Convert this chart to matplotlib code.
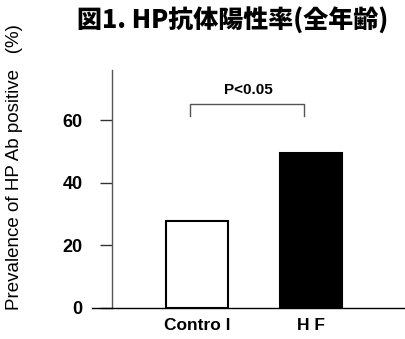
import matplotlib
matplotlib.use("Agg")
import matplotlib.pyplot as plt

# data
groups = ["Control", "HF"]
prevalence = [27.8, 49.6]
bar_colors = ["white", "black"]
yticks = [0, 20, 40, 60]
p_text = "P<0.05"

W, H = 406, 339
fig = plt.figure(figsize=(W / 100, H / 100), dpi=100)
# axes box in pixels: x 92..406, y 70..308 (from top)
ax = fig.add_axes([92 / W, 1 - 308 / H, (406 - 92) / W, (308 - 70) / H])

SANS = ["Liberation Sans", "DejaVu Sans"]
CJK = ["Noto Sans CJK JP", "DejaVu Sans"]

xpos = list(range(len(groups)))
ax.bar(xpos, prevalence, width=0.55, color=bar_colors, edgecolor="black",
       linewidth=1.5, zorder=3)

ax.set_xlim(-0.921, 1.833)
ax.set_ylim(0, 76)

for s in ["top", "right"]:
    ax.spines[s].set_visible(False)
ax.spines["left"].set_position(("data", -0.746))
ax.spines["left"].set_color("#555555")
ax.spines["left"].set_linewidth(1.0)
ax.spines["bottom"].set_color("black")
ax.spines["bottom"].set_linewidth(1.0)

ax.set_yticks(yticks)
ax.set_yticklabels([str(t) for t in yticks], fontweight="bold", fontsize=13,
                   family=SANS)
ax.tick_params(axis="y", length=9, width=1.0, color="#333333", pad=12)
ax.set_xticks(xpos)
ax.set_xticklabels(["Contro l", "H F"], fontweight="bold", fontsize=12.5,
                   family=SANS)
ax.tick_params(axis="x", length=0, pad=7)

# significance bracket
y_br, y_drop = 65, 61.2
ax.plot([-0.06, -0.06, 0.94, 0.94], [y_drop, y_br, y_br, y_drop],
        color="#555555", lw=1.0, clip_on=False)
ax.text(0.45, 67.5, p_text, ha="center", va="bottom", fontsize=11,
        fontweight="bold", family=SANS)

fig.text(15 / W, 1 - 167 / H, "Prevalence of HP Ab positive   (%)",
         rotation=90, ha="center", va="center", fontsize=13.5,
         fontweight="medium", family=SANS)
fig.text(233 / W, 1 - 20 / H, "図1. HP抗体陽性率(全年齢)", ha="center",
         va="center", fontsize=18, fontweight="black", family=CJK)

fig.savefig("out.png", dpi=100)
